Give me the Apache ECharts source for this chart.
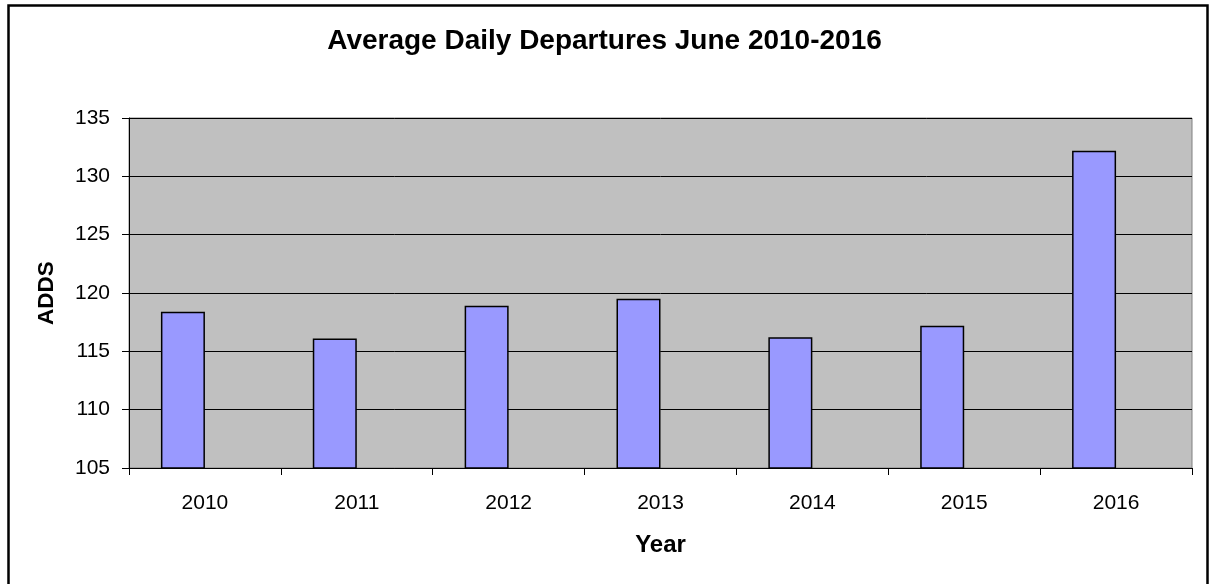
<!DOCTYPE html>
<html>
<head>
<meta charset="utf-8">
<script src="https://cdn.jsdelivr.net/npm/echarts@6/dist/echarts.min.js"></script>
<style>
	html, body { margin: 0; padding: 0; background: #fff; }
	#chart { width: 1209px; height: 584px; }
</style>
</head>
<body>
<div id="chart"></div>
<script>
const years = ['2010', '2011', '2012', '2013', '2014', '2015', '2016']
const adds = [118.4, 116.1, 118.9, 119.5, 116.2, 117.2, 132.2]
// the source chart keeps an empty second slot to the right of each bar
const blank = [null, null, null, null, null, null, null]
const yMin = 105
const yMax = 135
const yStep = 5

const myChart = echarts.init(document.getElementById('chart'), null, { renderer: 'canvas' })

const font = 'Liberation Sans, Arial, sans-serif'

let option = {
	animation: false,
	backgroundColor: '#fff',
	title: {
		text: 'Average Daily Departures June 2010-2016',
		left: 'center',
		top: 22,
		textStyle: { fontFamily: font, fontSize: 28, fontWeight: 'bold', color: '#000' },
	},
	graphic: [
		{
			type: 'rect',
			shape: { x: 8.5, y: 5.5, width: 1199, height: 600 },
			style: { fill: null, stroke: '#000', lineWidth: 2.5 },
			silent: true,
		},
	],
	grid: {
		left: 129,
		right: 17,
		top: 118,
		bottom: 116,
		show: true,
		backgroundColor: '#C0C0C0',
		borderColor: '#808080',
		borderWidth: 1,
	},
	xAxis: {
		type: 'category',
		data: years,
		name: 'Year',
		nameLocation: 'middle',
		nameGap: 65,
		nameTextStyle: { fontFamily: font, fontSize: 24, fontWeight: 'bold', color: '#000' },
		axisLine: { lineStyle: { color: '#000', width: 1 } },
		axisTick: { show: true, length: 7, lineStyle: { color: '#000' } },
		axisLabel: { fontFamily: font, fontSize: 21, color: '#000', margin: 25 },
	},
	yAxis: {
		type: 'value',
		min: yMin,
		max: yMax,
		interval: yStep,
		name: 'ADDS',
		nameLocation: 'middle',
		nameGap: 71,
		nameTextStyle: { fontFamily: font, fontSize: 22.5, fontWeight: 'bold', color: '#000' },
		axisLine: { show: true, lineStyle: { color: '#000', width: 1 } },
		axisTick: { show: true, length: 7, lineStyle: { color: '#000' } },
		axisLabel: { fontFamily: font, fontSize: 21, color: '#000', margin: 19 },
		splitLine: { lineStyle: { color: '#000', width: 1 } },
	},
	series: [
		{
			name: 'ADDS',
			type: 'bar',
			data: adds,
			barWidth: 44,
			barGap: '0%',
			itemStyle: { color: '#9999FF', borderColor: '#000', borderWidth: 1.5 },
		},
		{
			name: 'blank',
			type: 'bar',
			data: blank,
			barWidth: 44,
			barGap: '0%',
		},
	],
}
myChart.setOption(option)

window.addEventListener('resize', () => {
	myChart.resize()
})
</script>
</body>
</html>
